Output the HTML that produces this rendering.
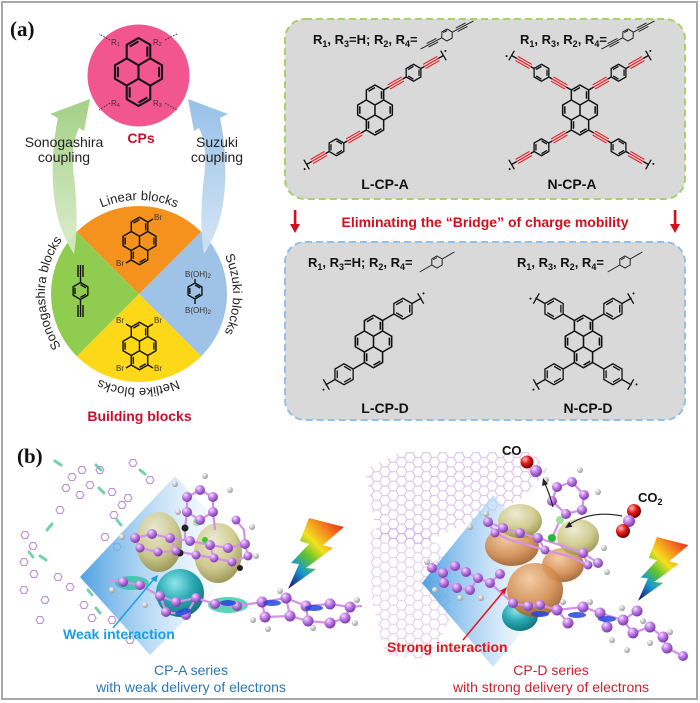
<!DOCTYPE html>
<html><head><meta charset="utf-8">
<style>
html,body{margin:0;padding:0;background:#fff;}
svg{display:block;}
text{font-family:"Liberation Sans",Arial,sans-serif;}
</style></head>
<body>
<svg width="700" height="703" viewBox="0 0 700 703" xmlns="http://www.w3.org/2000/svg">
<defs>
  <linearGradient id="gArrG" x1="0" y1="0" x2="0" y2="1"><stop offset="0" stop-color="#9ccc7c"/><stop offset="1" stop-color="#d9ecca"/></linearGradient>
  <linearGradient id="gArrB" x1="0" y1="0" x2="0" y2="1"><stop offset="0" stop-color="#90bbe6"/><stop offset="1" stop-color="#d2e4f4"/></linearGradient>
  <radialGradient id="pb" cx="0.35" cy="0.3" r="0.7"><stop offset="0" stop-color="#f5e0ff"/><stop offset="0.45" stop-color="#c27fe8"/><stop offset="1" stop-color="#7a3cab"/></radialGradient>
  <radialGradient id="hb" cx="0.35" cy="0.3" r="0.7"><stop offset="0" stop-color="#ffffff"/><stop offset="1" stop-color="#9a9a9a"/></radialGradient>
  <radialGradient id="olive" cx="0.4" cy="0.3" r="0.75"><stop offset="0" stop-color="#ecead0"/><stop offset="0.6" stop-color="#cdc685"/><stop offset="1" stop-color="#8f8a45"/></radialGradient>
  <radialGradient id="teal" cx="0.4" cy="0.3" r="0.75"><stop offset="0" stop-color="#8fe6ea"/><stop offset="0.5" stop-color="#2aaab4"/><stop offset="1" stop-color="#11707a"/></radialGradient>
  <radialGradient id="orng" cx="0.4" cy="0.3" r="0.75"><stop offset="0" stop-color="#f3c89a"/><stop offset="0.6" stop-color="#d38b4e"/><stop offset="1" stop-color="#9a5826"/></radialGradient>
  <radialGradient id="rb" cx="0.35" cy="0.3" r="0.7"><stop offset="0" stop-color="#ffb8b8"/><stop offset="0.5" stop-color="#e01818"/><stop offset="1" stop-color="#7a0000"/></radialGradient>
  <linearGradient id="wedge" x1="0" y1="0" x2="1" y2="0"><stop offset="0" stop-color="#3d97e0" stop-opacity="0.9"/><stop offset="0.45" stop-color="#a9d2f3" stop-opacity="0.7"/><stop offset="1" stop-color="#ffffff" stop-opacity="0"/></linearGradient>
  <linearGradient id="bolt" x1="0.9" y1="0" x2="0.1" y2="1"><stop offset="0" stop-color="#e8201c"/><stop offset="0.22" stop-color="#f5871f"/><stop offset="0.42" stop-color="#f3e11d"/><stop offset="0.6" stop-color="#5cc230"/><stop offset="0.78" stop-color="#1a9ad0"/><stop offset="1" stop-color="#1a237e"/></linearGradient>
  <pattern id="hexp" width="16.5" height="9.53" patternUnits="userSpaceOnUse">
    <path d="M0,4.76L2.75,0L8.25,0L11,4.76L8.25,9.53L2.75,9.53Z M11,4.76L16.5,4.76" fill="none" stroke="#c298e2" stroke-width="1.2"/>
  </pattern>
  <g id="pyr" fill="none" stroke="#111" stroke-width="1.5" stroke-linejoin="round">
    <path d="M0,-25L8.66,-20L8.66,-10L17.32,-5L17.32,5L8.66,10L8.66,20L0,25L-8.66,20L-8.66,10L-17.32,5L-17.32,-5L-8.66,-10L-8.66,-20Z M0,-5L0,5 M-8.66,-10L0,-5L8.66,-10 M-8.66,10L0,5L8.66,10 M-6.5,-18.75L0,-22.5 M6.5,-18.75L6.5,-11.25 M-15.16,-3.75L-15.16,3.75 M15.16,-3.75L15.16,3.75 M0,22.5L6.5,18.75 M-6.5,18.75L-6.5,11.25"/>
  </g>
  <g id="chA" fill="none" stroke-width="1.3">
    <path stroke="#111" d="M0,0L6,0 M22,0L26,0 M26,0L30.25,-7.36L38.75,-7.36L43,0L38.75,7.36L30.25,7.36Z M31.31,-5.52L37.69,-5.52 M28.13,0L31.31,5.52 M37.69,5.52L40.88,0 M43,0L47,0 M63,0L69,0 M69,-5.5L69,5.5"/>
    <path stroke="#e8141c" stroke-width="1.1" d="M6,-2.4L22,-2.4M6,0L22,0M6,2.4L22,2.4M47,-2.4L63,-2.4M47,0L63,0M47,2.4L63,2.4"/>
    <circle cx="73" cy="-3" r="1" fill="#111" stroke="none"/>
  </g>
  <g id="chD" fill="none" stroke="#111" stroke-width="1.3">
    <path d="M0,0L13,0 M13,0L18.25,-9.09L28.75,-9.09L34,0L28.75,9.09L18.25,9.09Z M19.56,-6.82L27.44,-6.82 M15.63,0L19.56,6.82 M27.44,6.82L31.38,0 M34,0L45,0 M44,-6L44,6"/>
    <circle cx="49" cy="-3" r="1" fill="#111" stroke="none"/>
  </g>
  <g id="icA" fill="none" stroke="#222" stroke-width="1">
    <path d="M-6,0L-3,-5.2L3,-5.2L6,0L3,5.2L-3,5.2Z M-2.25,-3.9L2.25,-3.9 M-30,0L-6,0 M6,0L30,0 M-22,-2L-11,-2 M-22,2L-11,2 M11,-2L22,-2 M11,2L22,2"/>
  </g>
  <g id="icD" fill="none" stroke="#222" stroke-width="1">
    <path d="M-6,0L-3,-5.2L3,-5.2L6,0L3,5.2L-3,5.2Z M-2.25,-3.9L2.25,-3.9 M-20,0L-6,0 M6,0L20,0"/>
  </g>
  <g id="hx"><path d="M-4,0L-2,-3.46L2,-3.46L4,0L2,3.46L-2,3.46Z" fill="none" stroke="#b07dd4" stroke-width="1.1"/></g>
  <path id="wc" d="M72.53,227.53 A94,94 0 0 1 205.47,360.47 A94,94 0 0 1 72.53,227.53"/>
</defs>

<rect x="0" y="0" width="700" height="703" fill="#fff"/>
<rect x="2" y="2" width="695" height="697" fill="none" stroke="#a8a8a8" stroke-width="2"/>

<!-- ================= PANEL (a) ================= -->
<text x="10" y="36" style="font-family:'Liberation Serif','Times New Roman',serif;font-weight:bold;font-size:21px" fill="#111">(a)</text>

<!-- pink CPs circle -->
<circle cx="138.5" cy="75.5" r="51" fill="#f2568e"/>
<use href="#pyr" transform="translate(138.5,72) scale(1.36)"/>
<g font-size="8" fill="#333">
  <text x="111" y="45">R<tspan font-size="5.5" dy="1">1</tspan></text>
  <text x="153" y="45">R<tspan font-size="5.5" dy="1">2</tspan></text>
  <text x="111" y="106">R<tspan font-size="5.5" dy="1">4</tspan></text>
  <text x="153" y="106">R<tspan font-size="5.5" dy="1">3</tspan></text>
</g>
<g stroke="#333" stroke-width="1" stroke-dasharray="1.5 1.5" fill="none">
  <path d="M110,40L99,34 M165,40L177,34 M110,103L99,110 M165,103L177,110"/>
</g>
<text x="141" y="143" text-anchor="middle" font-weight="bold" font-size="14" fill="#c8102e">CPs</text>

<!-- wheel -->
<path d="M139,294 L76.77,231.77 A88,88 0 0 1 201.23,231.77 Z" fill="#f5921e"/>
<path d="M139,294 L201.23,231.77 A88,88 0 0 1 201.23,356.23 Z" fill="#9ec3e6"/>
<path d="M139,294 L201.23,356.23 A88,88 0 0 1 76.77,356.23 Z" fill="#fdd818"/>
<path d="M139,294 L76.77,356.23 A88,88 0 0 1 76.77,231.77 Z" fill="#90cc50"/>

<!-- arrows -->
<path d="M90,99 L50,114 L58,118 C51,150 50,195 60,225 C64,237 69,246 74,254 C78,232 77,200 74,178 C72,160 72,142 79,128 L84,131 Z" fill="url(#gArrG)" opacity="0.92"/>
<path d="M188,99 L228,114 L220,118 C227,150 228,195 218,225 C214,237 209,246 204,254 C200,232 201,200 204,178 C206,160 206,142 199,128 L194,131 Z" fill="url(#gArrB)" opacity="0.92"/>

<g font-size="14" fill="#222" text-anchor="middle">
  <text x="64" y="147">Sonogashira</text>
  <text x="64" y="162">coupling</text>
  <text x="217" y="147">Suzuki</text>
  <text x="217" y="162">coupling</text>
</g>

<!-- wheel curved labels -->
<g font-size="13" fill="#222" text-anchor="middle">
  <text><textPath href="#wc" startOffset="73.8">Linear blocks</textPath></text>
  <text><textPath href="#wc" startOffset="221.5">Suzuki blocks</textPath></text>
  <text><textPath href="#wc" startOffset="369.1">Netlike blocks</textPath></text>
  <text><textPath href="#wc" startOffset="516.8">Sonogashira blocks</textPath></text>
</g>

<!-- wheel molecules -->
<use href="#pyr" transform="translate(139.5,241) scale(0.95)"/>
<use href="#pyr" transform="translate(139.5,346) scale(0.95)"/>
<g font-size="8" fill="#333">
  <text x="154" y="220">Br</text>
  <text x="116" y="266">Br</text>
  <text x="116" y="323">Br</text>
  <text x="154" y="323">Br</text>
  <text x="116" y="371">Br</text>
  <text x="154" y="371">Br</text>
</g>
<g stroke="#111" stroke-width="1.4" fill="none">
  <path d="M148,222 L153,219 M131,260 L126,263 M131,327 L126,324 M148,327 L153,324 M131,365 L126,368 M148,365 L153,368"/>
  <path d="M80.5,282.5L87.86,286.75L87.86,295.25L80.5,299.5L73.14,295.25L73.14,286.75Z M74.98,287.8L74.98,294.2 M80.5,284.6L86,287.8 M86,294.2L80.5,297.4 M80.5,282.5L80.5,277 M78,277L78,265 M80.5,277L80.5,265 M83,277L83,265 M80.5,299.5L80.5,305 M78,305L78,317 M80.5,305L80.5,317 M83,305L83,317"/>
  <path d="M195,283L201.93,287L201.93,295L195,299L188.07,295L188.07,287Z M189.8,288L189.8,294 M195,285L200.2,288 M200.2,294L195,297 M195,283L195,279 M195,299L195,304"/>
</g>
<g font-size="8" fill="#333">
  <text x="185" y="277">B(OH)<tspan font-size="6" dy="1">2</tspan></text>
  <text x="185" y="313">B(OH)<tspan font-size="6" dy="1">2</tspan></text>
</g>
<text x="139.5" y="421" text-anchor="middle" font-weight="bold" font-size="14" fill="#c8102e">Building blocks</text>

<!-- green box -->
<rect x="285" y="19" width="400" height="180" rx="20" fill="#d9d9d9" stroke="#a2d36e" stroke-width="2" stroke-dasharray="7 4"/>
<g font-size="13" font-weight="bold" fill="#111">
  <text x="313" y="44">R<tspan font-size="9" dy="3">1</tspan><tspan dy="-3">, R</tspan><tspan font-size="9" dy="3">3</tspan><tspan dy="-3">=H; R</tspan><tspan font-size="9" dy="3">2</tspan><tspan dy="-3">, R</tspan><tspan font-size="9" dy="3">4</tspan><tspan dy="-3">=</tspan></text>
  <text x="520" y="44">R<tspan font-size="9" dy="3">1</tspan><tspan dy="-3">, R</tspan><tspan font-size="9" dy="3">3</tspan><tspan dy="-3">, R</tspan><tspan font-size="9" dy="3">2</tspan><tspan dy="-3">, R</tspan><tspan font-size="9" dy="3">4</tspan><tspan dy="-3">=</tspan></text>
</g>
<use href="#icA" transform="translate(447,35) rotate(-28)"/>
<use href="#icA" transform="translate(628,35) rotate(-28)"/>

<use href="#pyr" transform="translate(375,110)"/>
<use href="#chA" transform="translate(383.66,90) rotate(-30)"/>
<use href="#chA" transform="translate(366.34,130) rotate(150)"/>

<use href="#pyr" transform="translate(580,110)"/>
<use href="#chA" transform="translate(571.34,90) rotate(-150)"/>
<use href="#chA" transform="translate(588.66,90) rotate(-30)"/>
<use href="#chA" transform="translate(571.34,130) rotate(150)"/>
<use href="#chA" transform="translate(588.66,130) rotate(30)"/>

<g font-size="14" font-weight="bold" fill="#111" text-anchor="middle">
  <text x="385" y="189">L-CP-A</text>
  <text x="572" y="189">N-CP-A</text>
</g>

<!-- red arrows and title -->
<g fill="#d0101c">
  <rect x="293.8" y="210" width="2.6" height="15"/>
  <polygon points="290,224 300,224 295,233"/>
  <rect x="673.8" y="210" width="2.6" height="15"/>
  <polygon points="670,224 680,224 675,233"/>
</g>
<text x="485" y="227" text-anchor="middle" font-weight="bold" font-size="14" fill="#d0101c">Eliminating the &#8220;Bridge&#8221; of charge mobility</text>

<!-- blue box -->
<rect x="285" y="242" width="400" height="178" rx="20" fill="#d9d9d9" stroke="#92c0e8" stroke-width="2" stroke-dasharray="7 4"/>
<g font-size="13" font-weight="bold" fill="#111">
  <text x="308" y="267">R<tspan font-size="9" dy="3">1</tspan><tspan dy="-3">, R</tspan><tspan font-size="9" dy="3">3</tspan><tspan dy="-3">=H; R</tspan><tspan font-size="9" dy="3">2</tspan><tspan dy="-3">, R</tspan><tspan font-size="9" dy="3">4</tspan><tspan dy="-3">=</tspan></text>
  <text x="517" y="267">R<tspan font-size="9" dy="3">1</tspan><tspan dy="-3">, R</tspan><tspan font-size="9" dy="3">3</tspan><tspan dy="-3">, R</tspan><tspan font-size="9" dy="3">2</tspan><tspan dy="-3">, R</tspan><tspan font-size="9" dy="3">4</tspan><tspan dy="-3">=</tspan></text>
</g>
<use href="#icD" transform="translate(437,262) rotate(-30)"/>
<use href="#icD" transform="translate(625,262) rotate(-30)"/>

<use href="#pyr" transform="translate(373.5,341.5) scale(1.05)"/>
<use href="#chD" transform="translate(382.59,320.5) rotate(-30)"/>
<use href="#chD" transform="translate(364.41,362.5) rotate(150)"/>

<use href="#pyr" transform="translate(583.5,341.5) scale(1.05)"/>
<use href="#chD" transform="translate(574.41,320.5) rotate(-150)"/>
<use href="#chD" transform="translate(592.59,320.5) rotate(-30)"/>
<use href="#chD" transform="translate(574.41,362.5) rotate(150)"/>
<use href="#chD" transform="translate(592.59,362.5) rotate(30)"/>

<g font-size="14" font-weight="bold" fill="#111" text-anchor="middle">
  <text x="385" y="413">L-CP-D</text>
  <text x="588" y="413">N-CP-D</text>
</g>

<!-- ================= PANEL (b) ================= -->
<text x="17" y="463" style="font-family:'Liberation Serif','Times New Roman',serif;font-weight:bold;font-size:21px" fill="#111">(b)</text>

<!-- left faint network -->
<g opacity="0.85">
  <use href="#hx" transform="translate(72,477)"/><use href="#hx" transform="translate(82,470)"/>
  <use href="#hx" transform="translate(90,485)"/><use href="#hx" transform="translate(80,495)"/>
  <use href="#hx" transform="translate(133,463)"/><use href="#hx" transform="translate(112,492)"/>
  <use href="#hx" transform="translate(122,505)"/><use href="#hx" transform="translate(114,515)"/>
  <use href="#hx" transform="translate(105,537)"/><use href="#hx" transform="translate(117,547)"/>
  <use href="#hx" transform="translate(25,535)"/><use href="#hx" transform="translate(33,546)"/>
  <use href="#hx" transform="translate(24,562)"/><use href="#hx" transform="translate(34,574)"/>
  <use href="#hx" transform="translate(58,577)"/><use href="#hx" transform="translate(70,587)"/>
  <use href="#hx" transform="translate(24,590)"/><use href="#hx" transform="translate(84,605)"/>
  <use href="#hx" transform="translate(92,618)"/><use href="#hx" transform="translate(112,620)"/>
  <use href="#hx" transform="translate(60,510)"/><use href="#hx" transform="translate(150,480)"/>
  <use href="#hx" transform="translate(40,620)"/><use href="#hx" transform="translate(130,640)"/>
  <use href="#hx" transform="translate(100,470)"/><use href="#hx" transform="translate(66,488)"/>
  <use href="#hx" transform="translate(128,498)"/><use href="#hx" transform="translate(45,600)"/>
</g>
<g stroke="#5cc9a0" stroke-width="3" stroke-linecap="round" opacity="0.85">
  <path d="M55,461L61,465 M96,465L101,470 M99,488L104,493 M117,520L121,525 M29,552L33,557 M40,556L46,560 M88,590L92,595 M96,608L100,613 M47,530L52,524 M140,470L145,474"/>
</g>

<!-- right faint network -->
<polygon points="365,470 400,452 532,452 548,470 520,500 470,522 420,545 378,540" fill="url(#hexp)" opacity="0.55"/>
<polygon points="370,530 420,525 452,560 450,620 430,660 385,655 372,600" fill="url(#hexp)" opacity="0.45"/>

<!-- wedges -->
<polygon points="80,577 175,476 250,555 150,655" fill="url(#wedge)"/>
<polygon points="422,583 493,495 565,580 493,667" fill="url(#wedge)"/>

<!-- left orbitals -->
<ellipse cx="159" cy="542" rx="23" ry="30" fill="url(#olive)" opacity="0.92"/>
<ellipse cx="218" cy="553" rx="24" ry="30" fill="url(#olive)" opacity="0.92"/>
<circle cx="180" cy="593" r="24" fill="url(#teal)"/>
<ellipse cx="132" cy="583" rx="17" ry="7" fill="#28c49a" opacity="0.75"/>
<ellipse cx="228" cy="605" rx="20" ry="8" fill="#28c49a" opacity="0.75"/>

<!-- left bonds -->
<g fill="none" stroke="#d592e6" stroke-width="2.2">
  <path d="M200,490L213,497L213,512L200,520L187,512L187,497Z M187,512L185,528L185,540 M213,512L215,530"/>
  <path d="M135,538L152,534L170,538L190,541L210,545L228,548L245,544 M140,548L158,552L176,551L196,555L214,558L232,562L248,556 M135,538L140,548 M170,538L176,551 M210,545L214,558 M245,544L248,556 M245,544L244,530L236,520"/>
  <path d="M110,580L123,582L140,585L160,596L176,602L196,598L215,604L237,606L262,602L286,598L306,606L330,604L350,607L362,606 M160,596L166,612L186,615L196,598 M262,602L265,617L290,616L308,621L330,623L345,618L350,607 M286,598L290,616 M306,606L308,621"/>
</g>
<g fill="url(#hb)">
  <circle cx="205" cy="476" r="3"/><circle cx="230" cy="490" r="3"/><circle cx="175" cy="484" r="3"/>
  <circle cx="122" cy="537" r="3"/><circle cx="256" cy="556" r="3"/><circle cx="252" cy="527" r="3"/>
  <circle cx="178" cy="512" r="3"/><circle cx="253" cy="620" r="3"/><circle cx="280" cy="591" r="3"/>
  <circle cx="357" cy="600" r="3"/><circle cx="313" cy="628" r="3"/><circle cx="145" cy="605" r="3"/>
  <circle cx="355" cy="623" r="3"/><circle cx="268" cy="629" r="3"/><circle cx="112" cy="590" r="3"/>
</g>
<g fill="#222">
  <circle cx="185" cy="528" r="3.5"/><circle cx="180" cy="553" r="3.5"/><circle cx="240" cy="568" r="3"/>
</g>
<circle cx="197" cy="522" r="4" fill="#9de39d"/>
<circle cx="205" cy="540" r="3" fill="#33cc33"/>
<g fill="url(#pb)">
  <circle cx="200" cy="490" r="5"/><circle cx="213" cy="497" r="5"/><circle cx="213" cy="512" r="5"/>
  <circle cx="200" cy="520" r="5"/><circle cx="187" cy="512" r="5"/><circle cx="187" cy="497" r="5"/>
  <circle cx="236" cy="520" r="4.5"/>
  <circle cx="135" cy="538" r="5"/><circle cx="152" cy="534" r="5"/><circle cx="170" cy="538" r="5"/>
  <circle cx="190" cy="541" r="5"/><circle cx="210" cy="545" r="5"/><circle cx="228" cy="548" r="5"/>
  <circle cx="245" cy="544" r="5"/>
  <circle cx="140" cy="548" r="4.5"/><circle cx="158" cy="552" r="4.5"/><circle cx="176" cy="551" r="4.5"/>
  <circle cx="196" cy="555" r="4.5"/><circle cx="214" cy="558" r="4.5"/><circle cx="232" cy="562" r="4.5"/>
  <circle cx="248" cy="556" r="4.5"/>
  <circle cx="123" cy="582" r="5"/><circle cx="140" cy="585" r="5"/><circle cx="160" cy="596" r="5"/>
  <circle cx="176" cy="602" r="5"/><circle cx="196" cy="598" r="5"/><circle cx="215" cy="604" r="5"/>
  <circle cx="237" cy="606" r="5"/><circle cx="262" cy="602" r="5.5"/><circle cx="286" cy="598" r="5.5"/>
  <circle cx="306" cy="606" r="5.5"/><circle cx="330" cy="604" r="5.5"/><circle cx="350" cy="607" r="5.5"/>
  <circle cx="166" cy="612" r="5"/><circle cx="186" cy="615" r="5"/><circle cx="265" cy="617" r="5.5"/>
  <circle cx="290" cy="616" r="5.5"/><circle cx="308" cy="621" r="5.5"/><circle cx="330" cy="623" r="5.5"/>
  <circle cx="345" cy="618" r="5.5"/>
</g>
<g fill="#2448d8" opacity="0.85">
  <ellipse cx="183" cy="612" rx="8" ry="3" transform="rotate(-15 183 612)"/>
  <ellipse cx="228" cy="603" rx="8" ry="3"/>
  <ellipse cx="272" cy="603" rx="9" ry="3"/>
  <ellipse cx="314" cy="608" rx="9" ry="3"/>
</g>

<!-- cyan arrow -->
<line x1="113" y1="628" x2="154" y2="579" stroke="#1aa0e0" stroke-width="1.5"/>
<polygon points="158,575 156.3,582.2 150.7,578.4" fill="#1aa0e0"/>

<!-- left bolt -->
<polygon points="309,518 344,527 323,545 333,548 306,568 316,569 288,589 299,564 291,563 309,544 300,541" fill="url(#bolt)"/>

<text x="63" y="639" font-weight="bold" font-size="14" fill="#1a9fe0">Weak interaction</text>
<g font-size="14" fill="#2a78b8" text-anchor="middle">
  <text x="191" y="675">CP-A series</text>
  <text x="191" y="692">with weak delivery of electrons</text>
</g>

<!-- right orbitals -->
<ellipse cx="520" cy="616" rx="18" ry="15" fill="url(#teal)"/>
<ellipse cx="512" cy="546" rx="27" ry="20" fill="url(#orng)" opacity="0.9"/>
<ellipse cx="563" cy="565" rx="21" ry="17" fill="url(#orng)" opacity="0.9"/>
<ellipse cx="520" cy="521" rx="22" ry="17" fill="url(#olive)" opacity="0.92"/>
<ellipse cx="578" cy="537" rx="21" ry="18" fill="url(#olive)" opacity="0.92"/>
<ellipse cx="535" cy="590" rx="28" ry="27" fill="url(#orng)" opacity="0.9"/>

<!-- right bonds -->
<g fill="none" stroke="#d592e6" stroke-width="2.2">
  <path d="M557,487L572,482L584,495L582,510L566,514L552,501Z M566,514L560,520L552,538"/>
  <path d="M488,522L503,528L520,533L538,538L560,545L583,553L598,563 M495,533L510,540L528,545L545,550L568,556L588,565 M488,522L495,533 M538,538L545,550 M583,553L588,565"/>
  <path d="M432,568L443,573L455,566L466,572L478,578L490,583L500,574 M443,573L444,583L457,588L470,590L478,578 M490,583L513,603"/>
  <path d="M513,603L528,606L540,605L557,610L568,623 M557,610L583,607L600,613L607,627 M600,613L623,620L637,611 M623,620L633,633L650,627L663,637L667,648L683,656"/>
</g>
<g fill="url(#hb)">
  <circle cx="580" cy="470" r="3"/><circle cx="598" cy="492" r="3"/><circle cx="546" cy="480" r="3"/>
  <circle cx="486" cy="514" r="3"/><circle cx="604" cy="548" r="3"/><circle cx="607" cy="572" r="3"/>
  <circle cx="470" cy="527" r="3"/><circle cx="427" cy="562" r="3"/><circle cx="460" cy="598" r="3"/>
  <circle cx="481" cy="598" r="3"/><circle cx="435" cy="590" r="3"/><circle cx="563" cy="602" r="3"/>
  <circle cx="590" cy="602" r="3"/><circle cx="622" cy="608" r="3"/><circle cx="643" cy="621" r="3"/>
  <circle cx="650" cy="643" r="3"/><circle cx="670" cy="632" r="3"/><circle cx="627" cy="650" r="3"/>
  <circle cx="612" cy="640" r="3"/>
</g>
<circle cx="560" cy="520" r="4" fill="#9de39d"/>
<circle cx="552" cy="538" r="4" fill="#22bb33"/>
<g fill="url(#pb)">
  <circle cx="557" cy="487" r="5"/><circle cx="572" cy="482" r="5"/><circle cx="584" cy="495" r="5"/>
  <circle cx="582" cy="510" r="5"/><circle cx="566" cy="514" r="5"/><circle cx="552" cy="501" r="5"/>
  <circle cx="488" cy="522" r="5"/><circle cx="503" cy="528" r="5"/><circle cx="520" cy="533" r="5"/>
  <circle cx="538" cy="538" r="5"/><circle cx="583" cy="553" r="5"/><circle cx="598" cy="563" r="5"/>
  <circle cx="495" cy="533" r="4.5"/><circle cx="545" cy="550" r="4.5"/><circle cx="588" cy="565" r="4.5"/>
  <circle cx="432" cy="568" r="5"/><circle cx="443" cy="573" r="5"/><circle cx="455" cy="566" r="5"/>
  <circle cx="466" cy="572" r="5"/><circle cx="478" cy="578" r="5"/><circle cx="490" cy="583" r="5"/>
  <circle cx="500" cy="574" r="5"/><circle cx="444" cy="583" r="5"/><circle cx="457" cy="588" r="5"/>
  <circle cx="470" cy="590" r="5"/>
  <circle cx="513" cy="603" r="5"/><circle cx="528" cy="606" r="5"/><circle cx="540" cy="605" r="5"/>
  <circle cx="557" cy="610" r="5.5"/><circle cx="568" cy="623" r="5.5"/><circle cx="583" cy="607" r="5.5"/>
  <circle cx="600" cy="613" r="5.5"/><circle cx="607" cy="627" r="5.5"/><circle cx="623" cy="620" r="5.5"/>
  <circle cx="637" cy="611" r="5.5"/><circle cx="633" cy="633" r="5.5"/><circle cx="650" cy="627" r="5.5"/>
  <circle cx="663" cy="637" r="5.5"/><circle cx="667" cy="648" r="5.5"/><circle cx="683" cy="656" r="5"/>
</g>
<g fill="#2448d8" opacity="0.85">
  <ellipse cx="540" cy="614" rx="9" ry="3"/>
  <ellipse cx="577" cy="615" rx="9" ry="3"/>
  <ellipse cx="607" cy="619" rx="9" ry="3"/>
</g>

<!-- CO / CO2 -->
<text x="502" y="455" font-weight="bold" font-size="13" fill="#111">CO</text>
<circle cx="527" cy="462" r="6.5" fill="url(#rb)"/>
<circle cx="536" cy="471" r="6" fill="url(#pb)"/>
<text x="638" y="502" font-weight="bold" font-size="13" fill="#111">CO<tspan font-size="9" dy="3">2</tspan></text>
<circle cx="634" cy="511" r="7" fill="url(#rb)"/>
<circle cx="629" cy="521" r="6" fill="url(#pb)"/>
<circle cx="623" cy="531" r="7" fill="url(#rb)"/>

<!-- black curved arrows -->
<path d="M553,507 Q549,492 545,484" fill="none" stroke="#222" stroke-width="1.2"/>
<polygon points="543,478 548,484.1 542.1,486" fill="#222"/>
<path d="M622,516 Q592,510 570,524" fill="none" stroke="#222" stroke-width="1.2"/>
<polygon points="565,528 572.5,526.7 569.3,521.7" fill="#222"/>

<!-- red arrow -->
<line x1="463" y1="640" x2="503" y2="592" stroke="#e3141c" stroke-width="1.5"/>
<polygon points="507,587 504.8,594.3 500.2,590.5" fill="#e3141c"/>

<!-- right bolt -->
<polygon points="309,518 344,527 323,545 333,548 306,568 316,569 288,589 299,564 291,563 309,544 300,541" fill="url(#bolt)" transform="translate(638,537) scale(0.9) translate(-288,-518)"/>

<text x="387" y="652" font-weight="bold" font-size="14" fill="#e3141c">Strong interaction</text>
<g font-size="14" fill="#cc2030" text-anchor="middle">
  <text x="551" y="675">CP-D series</text>
  <text x="551" y="692">with strong delivery of electrons</text>
</g>
</svg>
</body></html>
